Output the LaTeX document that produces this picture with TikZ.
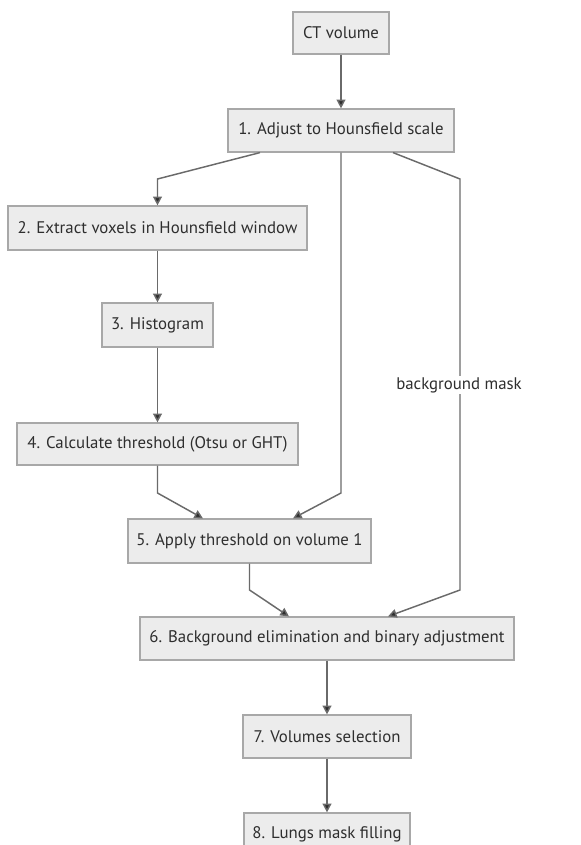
\documentclass[tikz,border=0pt]{standalone}
\usepackage{fontspec}
\setmainfont{PT Sans}
\usetikzlibrary{arrows.meta,calc}
\definecolor{boxfill}{HTML}{ECECEC}
\definecolor{boxline}{HTML}{A8A8A8}
\definecolor{edgeline}{HTML}{6A6A6A}
\definecolor{txt}{HTML}{2E2E2E}
\tikzset{
  stepbox/.style={draw=boxline, line width=0.9pt, fill=boxfill, text=txt, inner sep=0pt,
    font=\fontsize{12.6}{14}\selectfont, anchor=center},
  conn/.style={draw=edgeline, line width=1.1pt, -{Triangle[length=6.5pt,width=6.5pt,fill=txt]}},
  lbl/.style={fill=white, text=txt, inner sep=1pt, font=\fontsize{12.6}{14}\selectfont}
}
\begin{document}
\begin{tikzpicture}[x=0.75pt,y=-0.75pt]
\useasboundingbox (0,0) rectangle (581,845);
\clip (0,0) rectangle (581,845);
\node[stepbox, minimum width=96*0.75pt, minimum height=42*0.75pt] (ct) at (341,33) {CT volume};
\node[stepbox, minimum width=226*0.75pt, minimum height=43*0.75pt] (b1) at (341,130.5) {1. Adjust to Hounsfield scale};
\node[stepbox, minimum width=299*0.75pt, minimum height=44*0.75pt] (b2) at (157.5,228) {2. Extract voxels in Hounsfield window};
\node[stepbox, minimum width=111*0.75pt, minimum height=44*0.75pt] (b3) at (157.5,325) {3. Histogram};
\node[stepbox, minimum width=281*0.75pt, minimum height=42*0.75pt] (b4) at (157.5,444) {4. Calculate threshold (Otsu or GHT)};
\node[stepbox, minimum width=243*0.75pt, minimum height=44*0.75pt] (b5) at (249.5,541) {5. Apply threshold on volume 1};
\node[stepbox, minimum width=374*0.75pt, minimum height=43*0.75pt] (b6) at (327,638.5) {6. Background elimination and binary adjustment};
\node[stepbox, minimum width=168*0.75pt, minimum height=43*0.75pt] (b7) at (327,736.5) {7. Volumes selection};
\node[stepbox, minimum width=166*0.75pt, minimum height=43*0.75pt] (b8) at (327,834.5) {8. Lungs mask filling};

\draw[conn] (ct) -- (b1);
\draw[conn] ($(b1.south)+(-81,0)$) -- (157.5,179) -- (b2.north);
\draw[conn] (b2) -- (b3);
\draw[conn] (b3) -- (b4);
\draw[conn] (b4.south) -- (157.5,493) -- ($(b5.north)+(-46.5,0)$);
\draw[conn] (b1.south) -- (341,493) -- ($(b5.north)+(43.5,0)$);
\draw[conn] (b5.south) -- (249.5,590) -- ($(b6.north)+(-38,0)$);
\draw[conn] ($(b1.south)+(52,0)$) -- (460,179) -- (460,590) -- ($(b6.north)+(61,0)$);
\node[lbl] (mask) at (459,385) {background mask};
\draw[conn] (b6.south -| b7) -- (b7);
\draw[conn] (b7) -- (b8);
\end{tikzpicture}
\end{document}
